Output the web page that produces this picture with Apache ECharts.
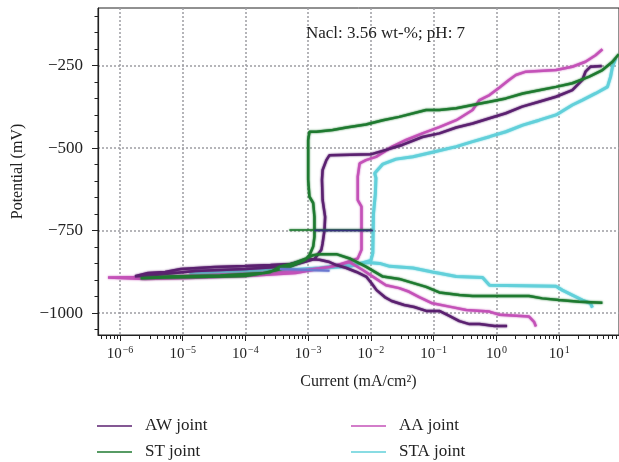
<!DOCTYPE html>
<html>
<head>
<meta charset="utf-8">
<script src="https://cdn.jsdelivr.net/npm/echarts@6/dist/echarts.min.js"></script>
<style>
  html, body { margin: 0; padding: 0; background: #fff; }
  #chart { width: 619px; height: 462px; }
</style>
</head>
<body>
<div id="chart"></div>
<script>
// x values are log10 of current (mA/cm2), y values are potential (mV)
var awLogI = [0.17,-0.03,-0.27,-0.43,-0.59,-0.75,-0.91,-1.12,-1.31,-1.47,-1.67,-1.78,-1.91,-1.99,-2.07,-2.23,-2.39,-2.55,-2.66,-2.82,-2.98,
  -3.28,-3.60,-4.01,-4.49,-4.76,-5.03,-5.28,-5.55,-5.76,-5.45,-4.80,-4.00,-3.30,-2.90,
  -2.79,-2.77,-2.74,-2.73,-2.77,-2.78,-2.77,-2.71,-2.66,-1.99,-1.76,-1.50,-1.18,-0.91,-0.64,-0.38,-0.11,0.15,0.41,0.68,0.95,1.21,1.37,1.42,1.50,1.68];
var awE = [-1039,-1039,-1033,-1033,-1024,-1008,-993,-993,-981,-975,-963,-951,-930,-909,-890,-875,-863,-854,-845,-838,-836,
  -851,-854,-857,-860,-863,-866,-875,-878,-888,-884,-872,-866,-858,-836,
  -808,-788,-748,-708,-657,-596,-566,-536,-521,-518,-505,-490,-466,-455,-437,-425,-409,-394,-374,-359,-344,-324,-293,-268,-253,-251];

var stLogI = [1.69,1.32,1.00,0.73,0.52,-0.38,-0.59,-0.91,-1.12,-1.55,-1.81,-2.08,-2.34,-2.55,-2.82,-2.92,-3.03,-3.24,-3.45,
  -3.60,-4.01,-4.76,-5.30,-5.67,-5.20,-4.40,-3.70,-3.30,-3.05,
  -2.98,-2.92,-2.90,-2.90,-2.92,-2.98,-3.00,-3.00,-2.98,-2.87,-2.61,-2.39,-2.08,-1.81,-1.55,-1.12,-0.91,-0.64,-0.38,-0.11,0.15,0.42,0.68,0.95,1.21,1.48,1.69,1.85,1.95];
var stE = [-968,-965,-960,-955,-948,-948,-945,-937,-920,-896,-889,-859,-834,-821,-821,-824,-834,-849,-859,
  -875,-887,-890,-892,-894,-889,-886,-878,-860,-838,
  -824,-798,-768,-708,-666,-647,-596,-475,-450,-450,-445,-437,-428,-415,-405,-384,-384,-379,-369,-359,-349,-334,-324,-314,-303,-283,-263,-238,-215];

var aaLogI = [0.63,0.60,0.52,0.05,-0.11,-0.48,-0.75,-1.02,-1.23,-1.39,-1.55,-1.76,-1.97,-2.13,-2.34,
  -2.66,-3.14,-3.93,-4.73,-5.52,-6.19,-5.60,-4.90,-4.00,-3.20,-2.60,-2.30,
  -2.21,-2.15,-2.15,-2.21,-2.21,-2.18,-2.08,-1.92,-1.66,-1.44,-1.18,-0.91,-0.64,-0.38,-0.27,-0.11,0.05,0.20,0.31,0.47,0.95,1.21,1.42,1.58,1.69];
var aaE = [-1040,-1026,-1010,-1005,-995,-990,-980,-970,-951,-935,-924,-915,-889,-869,-845,
  -860,-872,-880,-886,-890,-892,-896,-893,-887,-878,-858,-840,
  -834,-808,-677,-657,-586,-546,-536,-526,-495,-475,-455,-436,-415,-384,-354,-339,-316,-293,-278,-268,-263,-253,-238,-218,-200];

var staLogI = [1.53,1.50,1.37,1.21,1.05,0.95,-0.11,-0.22,-0.64,-0.91,-1.02,-1.33,-1.70,-1.86,-2.05,
  -2.34,-2.82,-3.30,-3.93,-4.41,-4.89,-4.30,-3.60,-2.90,-2.30,-2.00,
  -1.97,-1.96,-1.93,-1.92,-1.94,-1.81,-1.60,-1.33,-1.02,-0.64,-0.38,-0.11,0.15,0.42,0.68,0.95,1.21,1.37,1.58,1.77,1.82,1.85,1.90];
var staE = [-983,-970,-960,-945,-930,-918,-915,-892,-889,-879,-875,-863,-858,-849,-846,
  -852,-863,-869,-872,-878,-881,-876,-870,-866,-856,-840,
  -818,-700,-640,-590,-576,-548,-533,-526,-512,-495,-480,-465,-450,-430,-415,-399,-369,-354,-334,-314,-283,-253,-228];

// short stray strokes seen in the original plot
var strayGreenLogI = [-3.30, -1.99];
var strayGreenE = [-748, -748];
var strayNavyLogI = [-2.90, -1.97];
var strayNavyE = [-749, -749];
var strayBlueLogI = [-3.45, -2.66];
var strayBlueE = [-866, -871];

var xMajor = [-6, -5, -4, -3, -2, -1, 0, 1];
var yMajor = [-1000, -750, -500, -250];
var xMin = -6.35, xMax = 1.954;
var yMin = -1066, yMax = -75;

var xMinor = [];
for (var n = -7; n <= 1; n++) {
  for (var k = 2; k <= 9; k++) {
    var t = n + Math.log10(k);
    if (t > xMin && t < xMax) xMinor.push(t);
  }
}
var yMinor = [];
for (var v = -1050; v <= -100; v += 50) {
  if (yMajor.indexOf(v) < 0) yMinor.push(v);
}

function pairs(xs, ys) {
  return xs.map(function (x, i) { return [x, ys[i]]; });
}

var serif = 'Liberation Serif';
var colAW = '#5b2170', colST = '#1f7a30', colAA = '#c452b8', colSTA = '#62d0da';

var chart = echarts.init(document.getElementById('chart'));

function lineSeries(name, color, data, width) {
  return {
    name: name,
    type: 'line',
    data: data,
    symbol: 'none',
    smooth: false,
    animation: false,
    color: color,
    lineStyle: { color: color, width: width || 2.5, shadowColor: color, shadowBlur: 2 }
  };
}

function legendBox(names, left) {
  return {
    data: names,
    orient: 'vertical',
    left: left,
    top: 417,
    height: 60,
    padding: 0,
    icon: 'rect',
    itemWidth: 35,
    itemHeight: 1.5,
    itemGap: 8,
    textStyle: { fontFamily: serif, fontSize: 17, color: '#222', padding: [0, 0, 0, 8], lineHeight: 18 }
  };
}

var option = {
  backgroundColor: '#fff',
  animation: false,
  title: {
    text: 'Nacl: 3.56 wt-%; pH: 7',
    left: 301,
    top: 20,
    textStyle: { fontFamily: serif, fontSize: 17, fontWeight: 'normal', color: '#222' }
  },
  grid: {
    left: 98,
    top: 8,
    right: -1,
    bottom: 127,
    show: true,
    borderColor: '#222',
    borderWidth: 1,
    backgroundColor: 'transparent'
  },
  legend: [
    legendBox(['AW joint', 'ST joint'], 97),
    legendBox(['AA joint', 'STA joint'], 351)
  ],
  xAxis: [
    {
      type: 'value',
      position: 'bottom',
      min: xMin,
      max: xMax,
      name: 'Current (mA/cm²)',
      nameLocation: 'middle',
      nameGap: 39,
      nameTextStyle: { fontFamily: serif, fontSize: 16, color: '#222' },
      axisLine: { show: true, onZero: false, lineStyle: { color: '#222', width: 1.2 } },
      axisTick: { show: true, customValues: xMajor, length: 6, lineStyle: { color: '#222' } },
      axisLabel: {
        customValues: xMajor,
        margin: 10,
        formatter: function (val) {
          var e = Math.round(val);
          return '{b|10}{s|' + (e < 0 ? '−' + (-e) : e) + '}';
        },
        rich: {
          b: { fontFamily: serif, fontSize: 15, color: '#222', verticalAlign: 'bottom' },
          s: { fontFamily: serif, fontSize: 10, color: '#222', verticalAlign: 'bottom', padding: [0, 0, 7, 1] }
        }
      },
      splitLine: { show: true, lineStyle: { color: '#9d9da3', width: 1.5, type: [2, 2] } }
    },
    {
      type: 'value',
      position: 'bottom',
      min: xMin,
      max: xMax,
      axisLine: { show: false, onZero: false },
      axisTick: { show: true, customValues: xMinor, length: 4, lineStyle: { color: '#222' } },
      axisLabel: { show: false },
      splitLine: { show: false }
    }
  ],
  yAxis: [
    {
      type: 'value',
      position: 'left',
      min: yMin,
      max: yMax,
      name: 'Potential (mV)',
      nameLocation: 'middle',
      nameGap: 72,
      nameTextStyle: { fontFamily: serif, fontSize: 16, color: '#222' },
      axisLine: { show: true, onZero: false, lineStyle: { color: '#222', width: 1.2 } },
      axisTick: { show: true, customValues: yMajor, length: 6, lineStyle: { color: '#222' } },
      axisLabel: {
        customValues: yMajor,
        margin: 15,
        fontFamily: serif,
        fontSize: 17,
        color: '#222',
        formatter: function (val) { return String(val).replace('-', '−'); }
      },
      splitLine: { show: true, lineStyle: { color: '#9d9da3', width: 1.5, type: [2, 2] } }
    },
    {
      type: 'value',
      position: 'left',
      min: yMin,
      max: yMax,
      axisLine: { show: false, onZero: false },
      axisTick: { show: true, customValues: yMinor, length: 3.5, lineStyle: { color: '#222' } },
      axisLabel: { show: false },
      splitLine: { show: false }
    }
  ],
  series: [
    lineSeries('STA joint', colSTA, pairs(staLogI, staE), 3),
    lineSeries('AA joint', colAA, pairs(aaLogI, aaE)),
    lineSeries('AW joint', colAW, pairs(awLogI, awE)),
    lineSeries('ST joint', colST, pairs(stLogI, stE)),
    lineSeries('stray-g', colST, pairs(strayGreenLogI, strayGreenE), 1.5),
    lineSeries('stray-n', '#34307a', pairs(strayNavyLogI, strayNavyE), 1.5),
    lineSeries('stray-b', '#6a78d0', pairs(strayBlueLogI, strayBlueE), 2)
  ]
};

chart.setOption(option);
window.addEventListener('resize', function () { chart.resize(); });
</script>
</body>
</html>
